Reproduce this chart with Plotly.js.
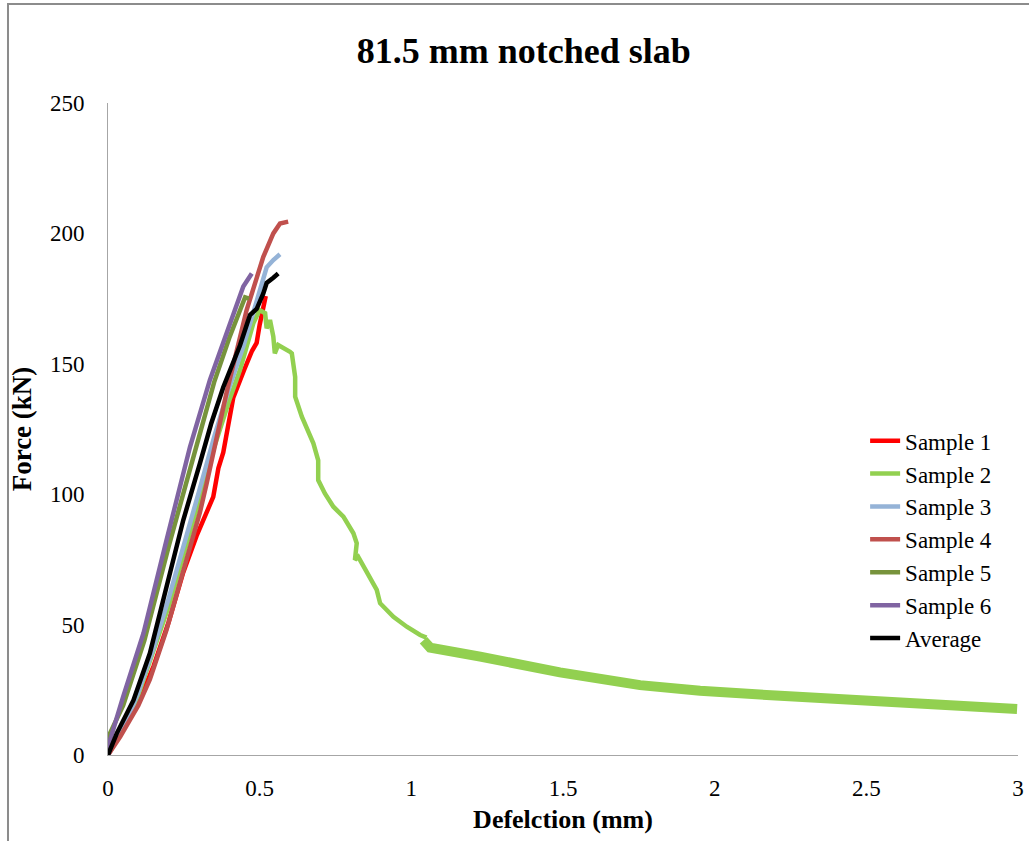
<!DOCTYPE html>
<html>
<head>
<meta charset="utf-8">
<script src="https://cdn.plot.ly/plotly-3.0.1.min.js"></script>
<style>html,body{margin:0;padding:0;background:#fff;}#chart{width:1029px;height:841px;}</style>
</head>
<body>
<div id="chart"></div>
<script>
// Sample 1
const s1x = [0, 0.05, 0.1, 0.15, 0.2, 0.248, 0.292, 0.347, 0.364, 0.38, 0.386, 0.413, 0.45, 0.475, 0.49, 0.5, 0.52];
const s1y = [0, 10, 20, 34, 51, 70, 84, 99, 110, 116, 120, 137, 148, 155, 158, 165, 176];
// Sample 2 (rising part, peak and softening)
const s2x = [0, 0.05, 0.1, 0.15, 0.2, 0.25, 0.3, 0.35, 0.4, 0.435, 0.479, 0.5, 0.518, 0.523, 0.534, 0.545, 0.55, 0.561, 0.6, 0.606, 0.617, 0.617, 0.639, 0.677, 0.693, 0.693, 0.715, 0.743, 0.776, 0.809, 0.82, 0.814, 0.825, 0.864, 0.886, 0.897, 0.941, 0.985, 1.029, 1.05];
const s2y = [2, 10, 23, 40, 57, 77, 98, 118, 136, 147.6, 165.5, 170.6, 169.4, 163.6, 166.8, 160.4, 154, 157.2, 154.6, 154, 145, 137.4, 129.7, 119.5, 113, 105.4, 100.3, 95.2, 91.4, 85, 81.2, 74.8, 76, 68.4, 63.3, 58.2, 53, 49.2, 46, 45];
// Sample 2 (noisy tail, centre of band)
const s2tx = [1.04, 1.062, 1.227, 1.49, 1.754, 1.952, 2.216, 2.479, 2.743, 2.997];
const s2ty = [44, 41.2, 37.7, 31.7, 26.8, 24.6, 22.7, 20.8, 19.2, 17.6];
// Sample 3
const s3x = [0, 0.05, 0.1, 0.15, 0.2, 0.25, 0.3, 0.35, 0.4, 0.446, 0.5, 0.523, 0.545, 0.567];
const s3y = [0, 10, 24, 41, 60, 80, 101, 122, 141, 156.6, 177, 187, 189.8, 192];
// Sample 4
const s4x = [0, 0.04, 0.1, 0.138, 0.193, 0.248, 0.303, 0.325, 0.36, 0.391, 0.457, 0.512, 0.545, 0.567, 0.594];
const s4y = [0, 7, 19, 29, 48, 70, 93, 104, 122, 139, 170.6, 191, 200, 203.8, 204.5];
// Sample 5
const s5x = [0, 0.007, 0.05, 0.12, 0.2, 0.29, 0.35, 0.4, 0.44, 0.452, 0.465];
const s5y = [2, 8.4, 19, 44, 80, 118, 143, 160, 172, 175.5, 175];
// Sample 6
const s6x = [0, 0.007, 0.05, 0.117, 0.193, 0.27, 0.336, 0.391, 0.424, 0.446, 0.474];
const s6y = [0, 5.8, 22.4, 46.7, 82.4, 118, 143.8, 161.7, 171.9, 179.6, 184.6];
// Average
const avx = [0, 0.029, 0.084, 0.138, 0.193, 0.248, 0.303, 0.34, 0.38, 0.402, 0.435, 0.468, 0.479, 0.49, 0.512, 0.523, 0.545, 0.561];
const avy = [0, 8.3, 21, 39, 64.5, 90, 111.8, 127, 141, 147.6, 157, 168.7, 170, 171, 177, 181, 183, 184.6];

const names = ['Sample 1', 'Sample 2', 'Sample 3', 'Sample 4', 'Sample 5', 'Sample 6', 'Average'];
const colors = ['#FF0000', '#92D050', '#95B3D7', '#C0504D', '#77933C', '#8064A2', '#000000'];

function tr(x, y, i, extra) {
  return Object.assign({
    x: x, y: y, type: 'scatter', mode: 'lines', name: names[i],
    legendgroup: 'g' + i,
    line: {color: colors[i], width: 4.5}
  }, extra || {});
}

const data = [
  tr(s1x, s1y, 0),
  tr(s2tx, s2ty, 1, {showlegend: false, line: {color: colors[1], width: 10}}),
  tr(s2x, s2y, 1),
  tr(s3x, s3y, 2),
  tr(s4x, s4y, 3),
  tr(s5x, s5y, 4),
  tr(s6x, s6y, 5),
  tr(avx, avy, 6)
];

const fontFam = '"Liberation Serif", "Times New Roman", serif';

const layout = {
  width: 1029, height: 841,
  margin: {l: 108, r: 11, t: 103, b: 86},
  paper_bgcolor: '#fff', plot_bgcolor: '#fff',
  font: {family: fontFam, color: '#000', size: 22},
  title: {text: '<b>81.5 mm notched slab</b>', font: {family: fontFam, size: 36, color: '#000'},
          x: 0.509, xref: 'container', xanchor: 'center', y: 0.94, yref: 'container', yanchor: 'middle'},
  showlegend: true,
  legend: {x: 0.832, y: 0.515, xanchor: 'left', yanchor: 'top', traceorder: 'grouped', tracegroupgap: 0,
           font: {family: fontFam, size: 23, color: '#000'}, bgcolor: 'rgba(0,0,0,0)'},
  xaxis: {range: [0, 3], dtick: 0.5, tick0: 0, showgrid: false, zeroline: false,
          showline: true, linecolor: '#A6A6A6', linewidth: 1, ticks: '', ticklabelstandoff: 12,
          tickfont: {family: fontFam, size: 23, color: '#000'},
          title: {text: '<b>Defelction (mm)</b>', font: {family: fontFam, size: 26, color: '#000'}, standoff: 10}},
  yaxis: {range: [0, 250], dtick: 50, tick0: 0, showgrid: false, zeroline: false,
          showline: true, linecolor: '#A6A6A6', linewidth: 1, ticks: '', ticklabelstandoff: 18,
          tickfont: {family: fontFam, size: 23, color: '#000'},
          title: {text: '<b>Force (kN)</b>', font: {family: fontFam, size: 27, color: '#000'}, standoff: 10}},
  shapes: [{type: 'rect', xref: 'paper', yref: 'paper', x0: -0.1099, x1: 1.02, y0: -0.14, y1: 1.1518,
            line: {color: '#8C8C8C', width: 2}, fillcolor: 'rgba(0,0,0,0)', layer: 'below'}]
};

Plotly.newPlot('chart', data, layout, {displayModeBar: false, staticPlot: true});
</script>
</body>
</html>
